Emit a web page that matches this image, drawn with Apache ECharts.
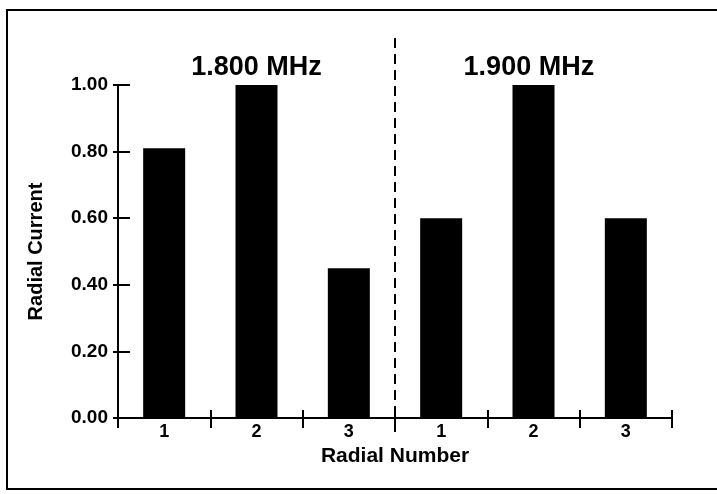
<!DOCTYPE html>
<html>
<head>
<meta charset="utf-8">
<script src="https://cdn.jsdelivr.net/npm/echarts@6/dist/echarts.min.js"></script>
<style>
html,body{margin:0;padding:0;background:#fff;}
#chart{width:717px;height:494px;}
</style>
</head>
<body>
<div id="chart"></div>
<script>
// ---- data ----
const categories = ['1', '2', '3', '1', '2', '3'];
const radialCurrent = [0.81, 1.00, 0.45, 0.60, 1.00, 0.60];
const groupLabels = ['1.800 MHz', '1.900 MHz'];
const groupCenters = [1.5, 4.45];       // in category-span units (0..6)
const dividerAt = [3];                  // boundary between the two groups
const yAxisName = 'Radial Current';
const xAxisName = 'Radial Number';

const FONT = '"Liberation Sans", Arial, sans-serif';
const chart = echarts.init(document.getElementById('chart'), null, {renderer: 'canvas'});

const GRID_L = 118, GRID_R = 45, GRID_T = 85, GRID_B = 76;

const option = {
  backgroundColor: '#ffffff',
  animation: false,
  graphic: [{
    type: 'rect',
    shape: {x: 7, y: 10, width: 730, height: 479},
    style: {fill: 'none', stroke: '#000', lineWidth: 2}
  }],
  grid: [
    {left: GRID_L, right: GRID_R, top: GRID_T, bottom: GRID_B},
    {left: GRID_L, right: GRID_R, top: 34, bottom: 62}
  ],
  xAxis: [
    {
      type: 'category', gridIndex: 0, data: categories,
      axisLine: {lineStyle: {color: '#000', width: 2}},
      axisTick: {show: true, inside: true, length: 8, lineStyle: {color: '#000', width: 2}},
      axisLabel: {color: '#000', fontFamily: FONT, fontWeight: 'bold', fontSize: 18, margin: 5},
      name: xAxisName, nameLocation: 'middle', nameGap: 25,
      nameTextStyle: {color: '#000', fontFamily: FONT, fontWeight: 'bold', fontSize: 21}
    },
    {
      type: 'category', gridIndex: 0, data: categories, position: 'bottom',
      axisLine: {show: false},
      axisTick: {show: true, inside: false, length: 10, lineStyle: {color: '#000', width: 2}},
      axisLabel: {show: false}
    },
    {
      type: 'value', gridIndex: 1, min: 0, max: 6, show: false
    }
  ],
  yAxis: [
    {
      type: 'value', gridIndex: 0, min: 0, max: 1, interval: 0.2,
      splitLine: {show: false},
      axisLine: {show: true, lineStyle: {color: '#000', width: 2}},
      axisTick: {show: true, inside: true, length: 12, lineStyle: {color: '#000', width: 2}},
      axisLabel: {color: '#000', fontFamily: FONT, fontWeight: 'bold', fontSize: 19, margin: 10,
        formatter: v => v.toFixed(2)},
      name: yAxisName, nameLocation: 'middle', nameGap: 72,
      nameTextStyle: {color: '#000', fontFamily: FONT, fontWeight: 'bold', fontSize: 20}
    },
    {
      type: 'value', gridIndex: 0, min: 0, max: 1, interval: 0.2, position: 'left',
      splitLine: {show: false},
      axisLine: {show: false},
      axisTick: {show: true, inside: false, length: 5, lineStyle: {color: '#000', width: 2}},
      axisLabel: {show: false}
    },
    {
      type: 'value', gridIndex: 1, min: 0, max: 1, show: false
    }
  ],
  series: [
    {
      type: 'bar', xAxisIndex: 0, yAxisIndex: 0,
      data: radialCurrent, barWidth: 42,
      itemStyle: {color: '#000'}
    },
    {
      type: 'custom', xAxisIndex: 2, yAxisIndex: 2,
      data: groupCenters.map((c, i) => [c, 0.915, i]),
      renderItem: function (params, api) {
        const p = api.coord([api.value(0), api.value(1)]);
        return {
          type: 'text',
          style: {
            x: p[0], y: p[1], text: groupLabels[api.value(2)],
            fill: '#000', font: 'bold 27px ' + FONT,
            align: 'center', verticalAlign: 'middle'
          }
        };
      },
      markLine: {
        silent: true, symbol: 'none',
        label: {show: false},
        lineStyle: {color: '#000', type: [10, 6], width: 2},
        data: dividerAt.map(d => ({xAxis: d}))
      }
    }
  ]
};
chart.setOption(option);
</script>
</body>
</html>
